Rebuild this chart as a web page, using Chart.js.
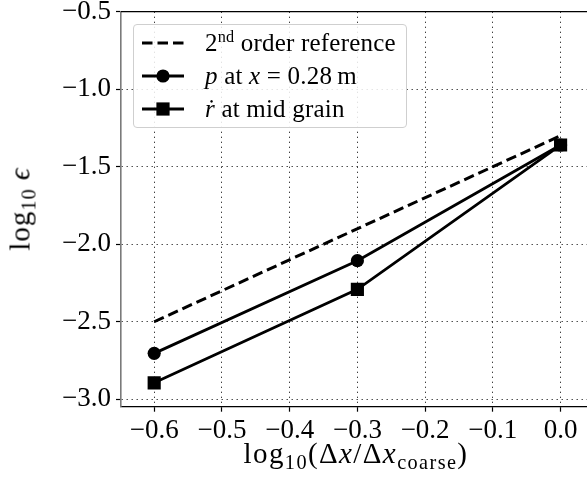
<!DOCTYPE html>
<html>
<head>
<meta charset="utf-8">
<script src="https://cdn.jsdelivr.net/npm/chart.js@4/dist/chart.umd.min.js"></script>
<style>
  html, body { margin: 0; padding: 0; background: #fff; overflow: hidden; }
  #wrap { position: relative; width: 587px; height: 478px; }
  #c { position: absolute; left: 0; top: 0; }
  .serif { font-family: "Liberation Serif", "DejaVu Serif", serif; color: #000; }
  #legend { position: absolute; left: 133px; top: 24px; width: 274px; height: 104px;
            border: 1px solid #cfcfcf; border-radius: 4px; background: rgba(255,255,255,0.85); box-sizing: border-box; }
  .row { position: absolute; left: 0; height: 30px; display: flex; align-items: center; white-space: nowrap; font-size: 25px; }
  .row svg { position: absolute; left: 8px; }
  .row span { position: absolute; left: 71px; letter-spacing: 0.2px; }
  sup { font-size: 0.65em; vertical-align: 0.55em; line-height: 0; }
  sub { font-size: 0.7em; vertical-align: -0.3em; line-height: 0; }
  #xtitle { position: absolute; left: 356px; top: 453px; transform: translate(-50%, -50%); font-size: 29px; letter-spacing: 1.4px; white-space: nowrap; }
  #ytitle { position: absolute; left: 20px; top: 209px; transform: translate(-50%, -50%) rotate(-90deg); font-size: 29px; letter-spacing: 1px; white-space: nowrap; }
</style>
</head>
<body>
<div id="wrap">
  <canvas id="c" width="587" height="478"></canvas>
  <div id="legend" class="serif"></div>
  <div id="xtitle" class="serif">log<sub>10</sub>(Δ<i>x</i>/Δ<i>x</i><sub>coarse</sub>)</div>
  <div id="ytitle" class="serif">log<sub>10</sub> <i>ϵ</i></div>
</div>
<script>
// ---- data ----
const refX = [-0.6, 0.0];
const refY = [-2.5, -1.3];
const gridX = [-0.6, -0.3, 0.0];
const pValues = [-2.704, -2.106, -1.36];
const rdotValues = [-2.894, -2.291, -1.36];
const xTicks = [-0.6, -0.5, -0.4, -0.3, -0.2, -0.1, 0.0];
const yTicks = [-3.0, -2.5, -2.0, -1.5, -1.0, -0.5];
const seriesLabels = ['2nd order reference', 'p at x = 0.28 m', 'ṙ at mid grain'];
const seriesLabelsRich = ['2<sup>nd</sup> order reference', '<i>p</i> at <i>x</i> = 0.28\u2009m', '<i>ṙ</i> at mid grain'];

const toPts = (xs, ys) => xs.map((x, i) => ({x: x, y: ys[i]}));
const fmt = v => { const s = Number(v).toFixed(1); return s.startsWith('-') ? '\u2212' + s.slice(1) : s; };
const tickFont = {family: 'Liberation Serif', size: 27, lineHeight: 1.0};

const frame = {
  id: 'frame',
  afterDatasetsDraw(chart) {
    const {ctx, chartArea: a} = chart;
    ctx.save();
    ctx.strokeStyle = '#000';
    ctx.lineWidth = 1.2;
    ctx.beginPath();
    ctx.moveTo(a.left, a.top);
    ctx.lineTo(a.right + 1, a.top);
    ctx.stroke();
    ctx.restore();
  }
};

const chart = new Chart(document.getElementById('c'), {
  type: 'line',
  data: {
    datasets: [
      { label: seriesLabels[0], data: toPts(refX, refY), borderColor: '#000', borderWidth: 3,
        borderDash: [10.5, 5], pointRadius: 0, fill: false, order: 3 },
      { label: seriesLabels[1], data: toPts(gridX, pValues), borderColor: '#000', backgroundColor: '#000',
        borderWidth: 2.8, pointStyle: 'circle', pointRadius: 6.6, pointBorderWidth: 0, fill: false, order: 2 },
      { label: seriesLabels[2], data: toPts(gridX, rdotValues), borderColor: '#000', backgroundColor: '#000',
        borderWidth: 2.8, pointStyle: 'rect', pointRadius: 9.3, pointBorderWidth: 0, fill: false, order: 1 }
    ]
  },
  options: {
    responsive: false,
    animation: false,
    devicePixelRatio: 1,
    layout: { autoPadding: false, padding: { left: 0, top: 11.7, right: 0, bottom: 0 } },
    plugins: { legend: { display: false }, tooltip: { enabled: false } },
    elements: { line: { tension: 0 } },
    scales: {
      x: {
        type: 'linear', min: -0.649, max: 0.039,
        afterBuildTicks: s => { s.ticks = xTicks.map(v => ({value: v})); },
        afterFit: s => { s.height = 478 - 406.7; s.paddingLeft = 0; s.paddingRight = 0; },
        ticks: { font: tickFont, color: '#000', padding: 6, maxRotation: 0, autoSkip: false, callback: v => fmt(v) },
        grid: { color: 'rgba(0,0,0,0.85)', lineWidth: 1, tickColor: '#000', tickLength: 5, tickWidth: 1.2, tickBorderDash: [] },
        border: { display: true, color: '#000', width: 1.2, dash: [1.2, 3.8] }
      },
      y: {
        type: 'linear', min: -3.048, max: -0.5,
        afterBuildTicks: s => { s.ticks = yTicks.map(v => ({value: v})); },
        afterFit: s => { s.width = 121; s.paddingTop = 0; s.paddingBottom = 0; },
        ticks: { font: tickFont, color: '#000', padding: 5, autoSkip: false, callback: v => fmt(v) },
        grid: { color: 'rgba(0,0,0,0.85)', lineWidth: 1, tickColor: '#000', tickLength: 5, tickWidth: 1.2, tickBorderDash: [] },
        border: { display: true, color: '#7a7a7a', width: 1.6, dash: [1.2, 3.8] }
      }
    }
  },
  plugins: [frame]
});

// HTML legend with rich text (superscripts / italics)
const legend = document.getElementById('legend');
const rowTops = [3, 36, 69];
chart.data.datasets.forEach((ds, i) => {
  const row = document.createElement('div');
  row.className = 'row';
  row.style.top = rowTops[i] + 'px';
  row.style.width = '100%';
  let marker = '';
  if (ds.pointStyle === 'circle') marker = '<circle cx="21" cy="15" r="6.6" fill="#000"/>';
  if (ds.pointStyle === 'rect') marker = '<rect x="14.4" y="8.4" width="13.2" height="13.2" fill="#000"/>';
  const dash = ds.borderDash ? 'stroke-dasharray="' + ds.borderDash.join(',') + '"' : '';
  row.innerHTML = '<svg width="42" height="30"><line x1="0" y1="15" x2="42" y2="15" stroke="#000" stroke-width="3" ' + dash + '/>' + marker + '</svg>' +
                  '<span>' + seriesLabelsRich[i] + '</span>';
  legend.appendChild(row);
});
</script>
</body>
</html>
